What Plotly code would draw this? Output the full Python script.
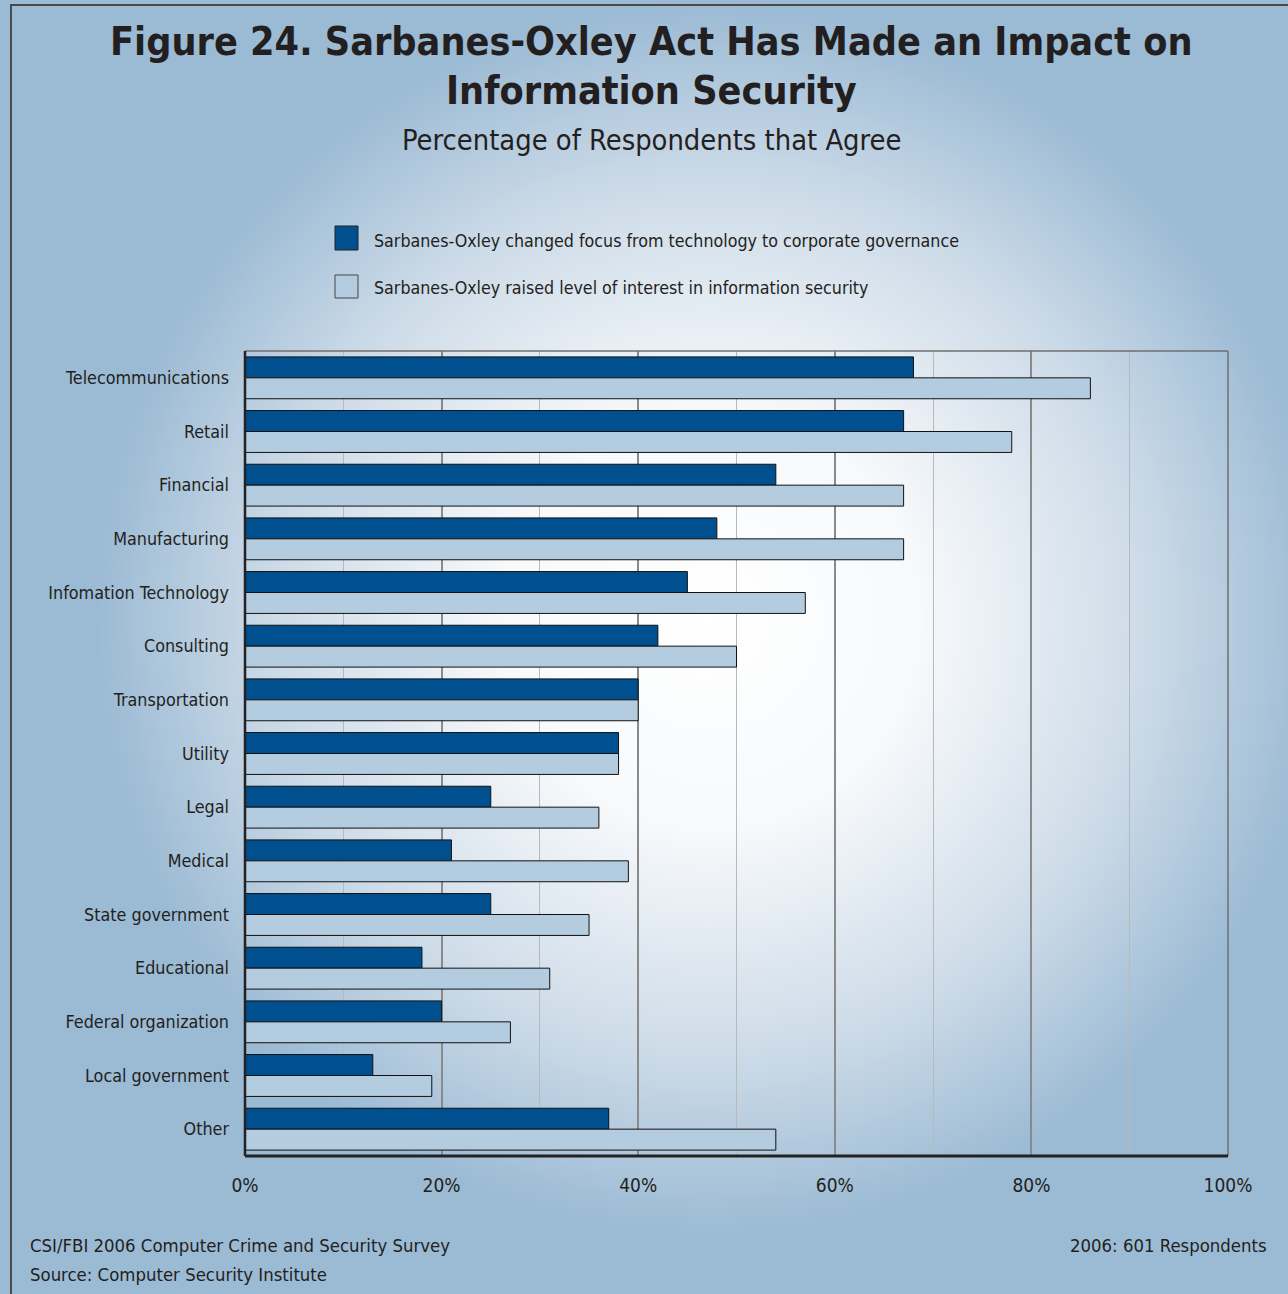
import base64
import plotly.graph_objects as go

# Survey results: share of respondents agreeing, by industry
industries = [
    "Telecommunications", "Retail", "Financial", "Manufacturing",
    "Infomation Technology", "Consulting", "Transportation", "Utility",
    "Legal", "Medical", "State government", "Educational",
    "Federal organization", "Local government", "Other",
]
changed_focus = [68, 67, 54, 48, 45, 42, 40, 38, 25, 21, 25, 18, 20, 13, 37]
raised_interest = [86, 78, 67, 67, 57, 50, 40, 38, 36, 39, 35, 31, 27, 19, 54]

series_names = [
    "Sarbanes-Oxley changed focus from technology to corporate governance",
    "Sarbanes-Oxley raised level of interest in information security",
]
tick_values = [0, 20, 40, 60, 80, 100]
tick_labels = ["0%", "20%", "40%", "60%", "80%", "100%"]

DARK = "#004f8f"
LIGHT = "#b4cce0"
EDGE = "#9bbad4"
INK = "#231f20"
FONT = "DejaVu Sans Condensed, Liberation Sans Narrow, sans-serif"

W, H = 1288, 1294
ML, MR, MT, MB = 245, 60, 351, 138
PW, PH = W - ML - MR, H - MT - MB


def px(x):
    return (x - ML) / PW


def py(y):
    return (H - MB - y) / PH


fig = go.Figure()
fig.add_trace(go.Bar(
    y=industries, x=changed_focus, orientation="h", name=series_names[0],
    marker=dict(color=DARK, line=dict(color="#111111", width=1)),
    showlegend=False,
))
fig.add_trace(go.Bar(
    y=industries, x=raised_interest, orientation="h", name=series_names[1],
    marker=dict(color=LIGHT, line=dict(color="#111111", width=1)),
    showlegend=False,
))

# Radial light-to-steel-blue backdrop
svg = f"""<svg xmlns='http://www.w3.org/2000/svg' width='{W}' height='{H}'>
<defs><radialGradient id='g' gradientUnits='userSpaceOnUse' cx='710' cy='620' r='700'>
<stop offset='0' stop-color='#ffffff'/>
<stop offset='0.3' stop-color='#f7f9fb'/>
<stop offset='0.62' stop-color='#cddbe8'/>
<stop offset='0.88' stop-color='{EDGE}'/>
<stop offset='1' stop-color='{EDGE}'/>
</radialGradient></defs>
<rect width='{W}' height='{H}' fill='url(#g)'/></svg>"""
bg_uri = "data:image/svg+xml;base64," + base64.b64encode(svg.encode()).decode()

fig.add_layout_image(dict(
    source=bg_uri, xref="paper", yref="paper",
    x=px(0), y=py(0), sizex=W / PW, sizey=H / PH,
    xanchor="left", yanchor="top", sizing="stretch", layer="below",
))

shapes = [
    # outer frame
    dict(type="rect", xref="paper", yref="paper", x0=px(11), x1=px(1290),
         y0=py(1300), y1=py(5), line=dict(color="#4a4a4a", width=2)),
    # plot-area borders
    dict(type="line", xref="paper", yref="paper", x0=0, x1=1, y0=1, y1=1,
         line=dict(color="#6f6f6f", width=1.5)),
    dict(type="line", xref="paper", yref="paper", x0=1, x1=1, y0=0, y1=1,
         line=dict(color="#6f6f6f", width=1.5)),
    dict(type="line", xref="paper", yref="paper", x0=0, x1=0, y0=0, y1=1,
         line=dict(color="#222222", width=2.5)),
    dict(type="line", xref="paper", yref="paper", x0=0, x1=1, y0=0, y1=0,
         line=dict(color="#222222", width=3)),
    # legend swatches
    dict(type="rect", xref="paper", yref="paper", x0=px(335), x1=px(358),
         y0=py(250), y1=py(226), fillcolor=DARK, line=dict(color="#222222", width=1)),
    dict(type="rect", xref="paper", yref="paper", x0=px(335), x1=px(358),
         y0=py(298), y1=py(275), fillcolor=LIGHT, line=dict(color="#444444", width=1)),
]

annotations = [
    dict(text="<b>Figure 24. Sarbanes-Oxley Act Has Made an Impact on</b>",
         x=px(651), y=py(42), font=dict(size=39.2, color=INK, family=FONT)),
    dict(text="<b>Information Security</b>",
         x=px(651), y=py(90), font=dict(size=39.2, color=INK, family=FONT)),
    dict(text="Percentage of Respondents that Agree",
         x=px(651), y=py(140), font=dict(size=28.8, color=INK, family=FONT)),
    dict(text=series_names[0], x=px(372), y=py(241), xanchor="left",
         font=dict(size=17.7, color=INK, family=FONT)),
    dict(text=series_names[1], x=px(372), y=py(288), xanchor="left",
         font=dict(size=17.7, color=INK, family=FONT)),
    dict(text="CSI/FBI 2006 Computer Crime and Security Survey", x=px(28), y=py(1245),
         xanchor="left", font=dict(size=18.4, color=INK, family=FONT)),
    dict(text="Source: Computer Security Institute", x=px(28), y=py(1274),
         xanchor="left", font=dict(size=18.4, color=INK, family=FONT)),
    dict(text="2006: 601 Respondents", x=px(1269), y=py(1245),
         xanchor="right", font=dict(size=18.4, color=INK, family=FONT)),
]
for a in annotations:
    a.update(xref="paper", yref="paper", showarrow=False, yanchor="middle")
    a.setdefault("xanchor", "center")

fig.update_layout(
    width=W, height=H,
    margin=dict(l=ML, r=MR, t=MT, b=MB, autoexpand=False),
    paper_bgcolor=EDGE,
    plot_bgcolor="rgba(0,0,0,0)",
    barmode="group", bargap=0.22, bargroupgap=0,
    shapes=shapes, annotations=annotations,
    font=dict(family=FONT, color=INK),
)
fig.update_xaxes(
    range=[0, 100], tickvals=tick_values, ticktext=tick_labels,
    showgrid=True, gridcolor="#8a8a8a", gridwidth=1.5,
    minor=dict(dtick=10, showgrid=True, gridcolor="#b9b9b9", gridwidth=1),
    zeroline=False, showline=False, ticks="", automargin=False,
    tickfont=dict(size=19, color=INK, family=FONT), ticklabelstandoff=16,
    fixedrange=True,
)
fig.update_yaxes(
    categoryorder="array", categoryarray=industries, autorange="reversed",
    showgrid=False, zeroline=False, showline=False, ticks="", automargin=False,
    tickfont=dict(size=17.8, color=INK, family=FONT), ticklabelstandoff=15,
    fixedrange=True,
)

fig.write_html("out.html")
